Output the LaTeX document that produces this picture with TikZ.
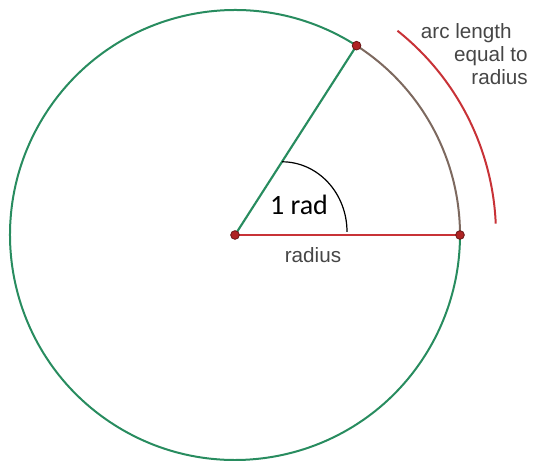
\documentclass[tikz,border=0pt]{standalone}
\usepackage{fontspec}
\setmainfont{Liberation Sans}
\newfontfamily\radfont{Carlito}
\usetikzlibrary{calc}

\definecolor{circgreen}{RGB}{40,140,95}
\definecolor{arcbrown}{RGB}{125,105,95}
\definecolor{radred}{RGB}{200,50,55}
\definecolor{dotred}{RGB}{175,35,35}
\definecolor{labelgray}{RGB}{70,70,70}

\begin{document}
\begin{tikzpicture}[
    x=0.75pt, y=0.75pt,
    circ/.style={draw=circgreen, line width=1.5pt},
    spoke/.style={draw=circgreen, line width=1.6pt},
    arcpart/.style={draw=arcbrown, line width=1.5pt},
    radline/.style={draw=radred, line width=1.5pt},
    outer/.style={draw=radred, line width=1.5pt},
    anglemark/.style={draw=black, line width=0.9pt},
    dot/.style={circle, draw=dotred!60!black, fill=dotred, line width=0.6pt, inner sep=0pt, minimum size=6.5pt},
    lbl/.style={text=labelgray, inner sep=0pt, font=\fontsize{15.5}{17.5}\selectfont}
]
    \useasboundingbox (0,0) rectangle (533,461);

    \coordinate (o) at (235,226);
    \coordinate (a) at ($(o)+(0:225)$);
    \coordinate (b) at ($(o)+(57.3:225)$);
    \coordinate (m) at ($(o)+(57.3:87)$);
    \coordinate (r) at ($(o)+(51.5:261)$);

    % circle, split at the one radian point
    \draw[circ] (b) arc[start angle=57.3, end angle=360, radius=225];
    \draw[arcpart] (a) arc[start angle=0, end angle=57.3, radius=225];
    \draw[spoke] (o) -- (b);
    \draw[radline] (o) -- (a);
    \draw[anglemark] (m) arc[start angle=90, end angle=0, x radius=65, y radius=70];
    \draw[outer] (r) arc[start angle=51.5, end angle=2.5, radius=261];

    \node[dot] (dot_o) at (o) {};
    \node[dot] (dot_a) at (a) {};
    \node[dot] (dot_b) at (b) {};

    \node[anchor=base, inner sep=0pt, font=\radfont\fontsize{21}{24}\selectfont] (rad) at (299,246) {1 rad};
    \node[lbl, anchor=base] (radius) at (313,198) {radius};
    \node[lbl, anchor=north east, align=right] (arclen) at (528,438) {arc length\hspace*{12pt}\\equal to\\radius};
\end{tikzpicture}
\end{document}
